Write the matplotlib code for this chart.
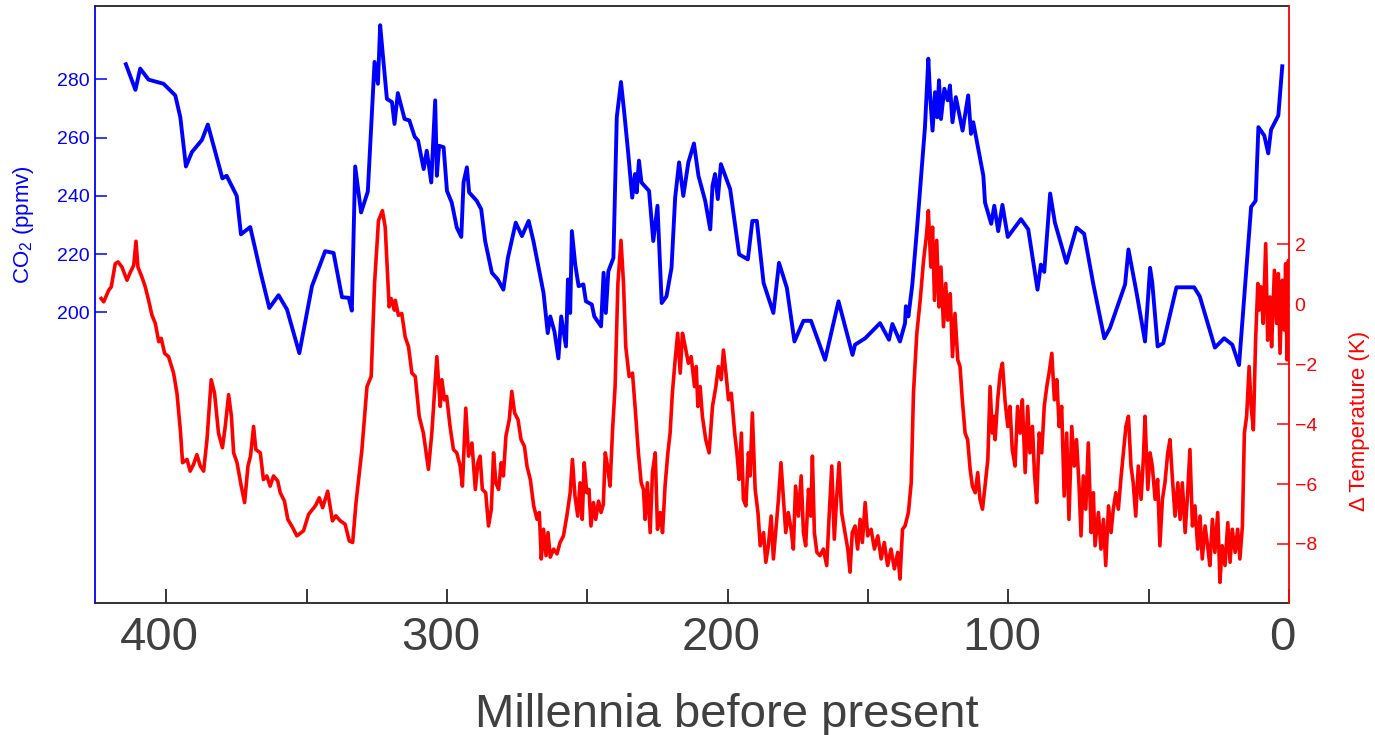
import matplotlib
matplotlib.use('Agg')
import matplotlib.pyplot as plt
from matplotlib.ticker import FixedLocator, FuncFormatter
from matplotlib.transforms import ScaledTranslation

# ---------------- data ----------------
co2_age = [414.4, 411.0, 409.3, 406.3, 401.0, 396.8, 395.0, 393.0, 390.9, 387.3, 385.2, 380.0, 378.5,
           374.9, 373.4, 370.1, 366.5, 363.3, 360.0, 357.0, 352.6, 348.1, 343.4, 340.4, 337.4, 335.0,
           333.9, 332.7, 330.6, 328.2, 325.8, 324.6, 323.8, 323.0, 321.4, 319.6, 318.7, 317.5, 315.1,
           313.4, 311.5, 310.3, 308.3, 307.2, 305.6, 304.2, 303.6, 302.8, 301.2, 300.0, 298.3, 296.5,
           294.9, 294.1, 292.9, 292.1, 289.4, 287.8, 286.4, 284.0, 281.9, 279.9, 278.3, 275.5, 273.3,
           270.9, 269.2, 265.6, 264.1, 263.2, 261.7, 260.3, 259.3, 257.6, 256.9, 256.1, 255.5, 254.3,
           253.1, 251.4, 250.5, 248.4, 247.5, 245.1, 244.2, 243.4, 242.5, 240.7, 239.5, 238.0, 236.8,
           235.4, 234.0, 233.0, 232.4, 231.6, 230.7, 228.0, 226.5, 225.0, 223.5, 221.8, 220.0, 218.7,
           217.3, 215.8, 214.0, 212.0, 210.4, 208.0, 206.2, 205.4, 204.5, 203.5, 202.4, 199.1, 195.9,
           192.8, 191.2, 189.6, 187.2, 183.7, 181.7, 178.9, 176.2, 173.0, 170.3, 165.3, 160.5, 155.5,
           154.6, 151.0, 145.7, 142.5, 141.3, 138.6, 136.8, 136.5, 135.6, 134.2, 132.6, 130.8, 129.7,
           128.5, 127.9, 127.0, 126.1, 125.3, 124.7, 124.0, 122.8, 121.6, 120.8, 119.9, 118.7, 116.3,
           114.3, 113.3, 112.5, 108.9, 108.3, 106.1, 105.0, 103.6, 102.1, 100.2, 95.5, 92.9, 89.6,
           88.4, 87.2, 85.1, 83.4, 79.3, 75.7, 73.0, 69.7, 65.8, 63.8, 58.4, 57.2, 54.3, 51.3, 49.5,
           48.7, 46.8, 44.8, 40.1, 33.8, 31.8, 26.4, 23.1, 20.2, 17.8, 13.5, 11.9, 10.9, 8.8, 7.4,
           6.4, 3.8, 2.4]
co2_ppmv = [285.2, 276.4, 283.7, 279.9, 278.5, 274.5, 267.0, 250.1, 255.0, 259.2, 264.5, 246.0, 246.9,
            240.0, 226.8, 229.3, 214.1, 201.5, 205.9, 201.0, 186.0, 209.0, 221.0, 220.4, 205.2, 205.0,
            200.6, 250.1, 234.3, 241.5, 286.0, 278.5, 298.6, 290.0, 273.3, 272.2, 264.7, 275.3, 266.4,
            265.9, 260.3, 259.0, 249.2, 255.5, 244.6, 272.8, 246.9, 257.2, 256.7, 241.7, 237.7, 229.1,
            225.9, 244.6, 249.8, 241.2, 238.3, 235.4, 224.5, 213.6, 211.3, 207.8, 218.7, 230.8, 226.2,
            231.4, 224.5, 206.7, 192.9, 198.6, 193.4, 184.2, 198.6, 188.3, 211.3, 199.8, 227.9, 216.4,
            209.0, 209.6, 203.8, 202.7, 198.6, 195.2, 213.6, 199.8, 214.1, 218.7, 267.0, 279.1, 268.2,
            254.4, 239.4, 247.5, 241.2, 252.1, 244.6, 241.7, 224.5, 236.6, 203.2, 205.5, 215.3, 239.4,
            251.5, 240.0, 251.5, 258.0, 246.9, 238.3, 228.5, 243.4, 247.5, 238.9, 250.9, 242.3, 219.9,
            218.2, 231.4, 231.4, 210.1, 199.8, 217.0, 208.4, 190.0, 197.1, 197.1, 183.7, 203.8, 185.4,
            188.9, 191.1, 196.3, 190.6, 196.0, 190.0, 196.3, 202.1, 198.6, 209.6, 227.9, 249.8, 263.6,
            287.1, 275.1, 262.4, 275.6, 267.0, 279.7, 266.4, 276.8, 272.8, 277.9, 265.3, 273.9, 262.4,
            274.5, 261.3, 265.3, 246.9, 237.7, 230.4, 236.6, 227.9, 236.9, 225.9, 232.0, 228.5, 207.8,
            216.4, 213.9, 240.8, 230.8, 217.0, 229.1, 227.0, 209.6, 191.1, 194.6, 209.6, 221.6, 206.7,
            190.0, 215.3, 210.1, 188.3, 189.4, 208.6, 208.6, 205.5, 187.9, 191.1, 188.9, 181.9, 236.2,
            238.3, 263.6, 260.7, 254.6, 262.7, 267.6, 284.5]

temp_age = [423.2, 422.3, 420.5, 419.6, 418.2, 417.2, 415.8, 414.0, 412.8, 411.6, 410.8, 410.1, 408.7,
            407.5, 406.3, 405.1, 403.9, 402.7, 401.8, 400.6, 399.2, 397.4, 396.2, 395.0, 394.2, 392.6,
            391.5, 390.3, 389.1, 387.9, 386.7, 385.5, 384.0, 382.8, 381.4, 380.0, 379.0, 377.8, 376.8,
            376.0, 374.8, 373.3, 372.1, 370.9, 370.0, 368.9, 368.1, 366.5, 365.4, 364.2, 363.0, 361.8,
            360.3, 359.4, 357.9, 356.7, 355.0, 353.5, 351.1, 349.3, 346.9, 345.5, 344.3, 342.5, 340.8,
            339.6, 338.0, 336.3, 334.8, 333.6, 332.4, 330.3, 328.5, 327.0, 325.8, 324.4, 323.0, 322.0,
            320.6, 319.9, 318.7, 318.4, 317.3, 316.1, 314.9, 313.7, 312.5, 311.3, 309.9, 308.4, 306.6,
            305.4, 303.6, 302.4, 301.8, 300.9, 300.1, 298.9, 297.7, 296.5, 295.3, 294.5, 293.3, 292.3,
            291.1, 289.9, 289.0, 288.2, 287.4, 286.2, 285.2, 284.2, 283.4, 282.6, 281.6, 280.7, 279.9,
            279.0, 277.8, 276.9, 275.9, 274.7, 273.6, 272.4, 271.5, 270.3, 269.1, 267.9, 267.1, 266.4,
            265.6, 264.7, 264.0, 263.2, 262.0, 260.8, 259.7, 258.5, 257.3, 256.1, 255.3, 254.4, 253.4,
            252.6, 251.8, 251.1, 250.2, 249.4, 248.7, 247.8, 247.0, 246.0, 245.1, 244.3, 243.6, 242.8,
            241.9, 241.0, 240.1, 239.1, 238.0, 237.1, 236.3, 235.1, 233.9, 232.9, 231.8, 230.8, 230.0,
            229.4, 228.6, 227.6, 226.8, 225.8, 225.0, 224.0, 223.2, 222.3, 221.3, 220.5, 219.7, 218.7,
            217.8, 216.9, 216.1, 215.1, 214.0, 213.0, 211.8, 211.2, 210.6, 209.8, 209.0, 207.8, 206.6,
            205.4, 204.2, 203.3, 202.3, 201.5, 200.6, 199.7, 198.7, 197.5, 196.7, 195.9, 195.1, 194.4,
            193.5, 192.6, 192.0, 191.2, 190.2, 189.2, 188.4, 187.2, 186.4, 185.5, 184.5, 183.7, 182.9,
            181.9, 181.0, 180.1, 179.3, 178.4, 177.4, 176.6, 175.8, 174.8, 173.8, 173.0, 172.2, 171.2,
            170.4, 169.8, 169.1, 168.2, 167.1, 165.9, 164.7, 163.9, 162.9, 162.0, 161.2, 160.3, 159.4,
            158.2, 157.2, 156.4, 155.6, 154.6, 153.7, 152.8, 152.0, 151.0, 150.1, 148.9, 147.7, 146.5,
            145.3, 144.2, 143.0, 141.8, 140.6, 139.4, 138.6, 137.7, 136.8, 135.6, 134.6, 133.8, 132.6,
            131.4, 130.2, 129.1, 128.5, 127.6, 127.0, 126.3, 125.5, 124.7, 124.0, 123.1, 122.3, 121.6,
            120.7, 119.9, 119.0, 118.0, 117.2, 116.4, 115.4, 114.5, 113.6, 112.8, 111.8, 110.9, 110.1,
            109.2, 108.3, 107.3, 106.5, 105.7, 105.0, 104.7, 103.8, 102.9, 102.1, 101.2, 100.2, 99.4,
            98.6, 97.6, 96.7, 95.8, 95.0, 94.0, 93.1, 92.3, 91.4, 90.7, 89.9, 89.0, 88.1, 87.2, 86.3,
            85.5, 84.5, 83.6, 82.7, 81.9, 81.0, 80.1, 79.2, 78.4, 77.4, 76.5, 75.7, 74.8, 74.1, 73.3,
            72.4, 71.5, 70.5, 69.7, 69.1, 67.9, 67.0, 66.1, 65.3, 64.3, 63.4, 62.6, 61.7, 60.8, 59.8,
            59.0, 58.1, 57.2, 56.3, 55.5, 54.6, 53.7, 52.7, 51.9, 51.3, 50.3, 49.5, 48.7, 47.7, 46.8,
            46.0, 45.1, 44.2, 43.2, 42.4, 41.6, 40.6, 39.6, 38.8, 38.0, 37.0, 36.1, 35.3, 34.4, 33.5,
            32.5, 31.7, 30.9, 29.9, 29.0, 28.2, 27.3, 26.4, 25.4, 24.6, 23.8, 22.8, 21.8, 21.0, 20.2,
            19.2, 18.3, 17.5, 16.6, 15.9, 15.1, 14.2, 13.5, 12.7, 11.9, 11.1, 10.7, 10.0, 9.2, 8.3,
            7.6, 6.8, 6.2, 5.2, 4.4, 3.8, 3.2, 2.4, 1.7, 1.2, 0.7, 0.2, 0.1]
temp_dT = [0.19, 0.08, 0.47, 0.58, 1.35, 1.41, 1.24, 0.80, 1.07, 1.30, 2.10, 1.24, 0.91,
           0.58, 0.13, -0.37, -0.64, -1.25, -1.14, -1.64, -1.75, -2.30, -2.97, -4.19, -5.29, -5.18,
           -5.57, -5.35, -5.02, -5.40, -5.57, -4.52, -2.52, -2.97, -4.30, -4.79, -4.08, -3.02, -3.74,
           -4.96, -5.29, -6.07, -6.62, -5.40, -5.07, -4.08, -4.85, -4.96, -5.85, -5.73, -6.07, -5.73,
           -5.90, -6.29, -6.57, -7.18, -7.45, -7.73, -7.56, -7.01, -6.73, -6.46, -6.79, -6.24, -7.23,
           -7.06, -7.23, -7.34, -7.90, -7.95, -6.62, -4.85, -2.75, -2.41, 0.69, 2.79, 3.12, 2.57,
           -0.09, 0.19, -0.20, 0.13, -0.37, -0.31, -1.09, -1.42, -2.30, -2.41, -3.74, -4.30, -5.51,
           -4.30, -1.75, -3.41, -2.52, -3.19, -3.08, -4.08, -4.85, -4.96, -5.40, -6.07, -3.47, -5.07,
           -4.63, -6.18, -5.29, -5.07, -6.18, -6.29, -7.40, -6.84, -4.96, -5.96, -6.18, -5.29, -5.73,
           -4.41, -3.85, -2.91, -3.63, -3.85, -4.52, -4.74, -5.40, -5.85, -6.73, -7.18, -6.95, -8.50,
           -7.51, -8.39, -7.62, -8.44, -8.17, -8.33, -7.95, -7.73, -7.07, -6.29, -5.18, -6.40, -7.07,
           -5.96, -7.18, -5.29, -6.29, -6.18, -7.40, -6.62, -7.18, -6.57, -6.95, -6.68, -4.96, -5.40,
           -6.07, -4.19, -2.75, 0.69, 2.13, 0.69, -1.42, -2.41, -2.30, -3.52, -4.96, -5.96, -6.18,
           -7.18, -5.96, -7.62, -5.62, -4.96, -7.51, -6.95, -7.62, -6.07, -4.96, -4.30, -2.97, -1.86,
           -0.97, -2.30, -0.97, -1.42, -1.97, -1.75, -2.75, -2.08, -3.41, -2.75, -3.74, -4.52, -4.96,
           -3.41, -2.75, -2.08, -2.52, -1.53, -2.30, -3.19, -2.97, -4.30, -4.96, -5.85, -4.30, -6.51,
           -6.73, -4.96, -5.73, -3.63, -6.18, -6.95, -8.06, -7.62, -8.61, -8.06, -7.07, -8.50, -7.62,
           -6.51, -5.29, -6.51, -7.62, -6.95, -7.51, -8.17, -6.07, -7.07, -5.73, -7.62, -8.06, -6.18,
           -7.07, -5.07, -7.62, -8.28, -8.39, -8.17, -8.72, -7.18, -5.40, -7.84, -6.51, -5.29, -6.95,
           -7.62, -8.17, -8.94, -7.62, -7.40, -8.17, -7.18, -7.95, -6.62, -7.73, -7.51, -8.17, -7.73,
           -8.50, -7.95, -8.72, -8.17, -8.83, -8.28, -9.17, -7.51, -7.40, -6.95, -5.96, -2.97, -0.97,
           0.13, 1.46, 2.35, 3.12, 1.24, 2.57, 0.13, 2.13, -0.09, 1.24, -0.75, 0.69, -0.53,
           0.35, -1.75, -0.31, -1.86, -2.08, -3.19, -4.30, -4.52, -5.51, -6.07, -6.29, -5.62, -6.51,
           -6.84, -6.07, -5.18, -2.75, -4.30, -3.74, -4.52, -3.19, -2.30, -1.97, -3.19, -4.08, -3.41,
           -4.85, -5.40, -3.41, -4.30, -3.19, -5.62, -3.41, -4.96, -4.08, -5.62, -6.62, -4.30, -4.96, -3.41, -2.75,
           -2.30, -1.64, -3.19, -2.52, -4.08, -3.41, -6.40, -4.30, -7.18, -4.08, -5.40, -4.52, -6.07, -7.73, -5.73,
           -6.84, -4.63, -7.62, -6.29, -8.06, -6.95, -8.17, -7.18, -8.72, -6.73, -7.62, -6.84, -6.29, -6.84, -5.73,
           -4.96, -4.08, -3.74, -5.40, -5.96, -7.07, -5.40, -6.51, -5.18, -3.74, -6.18, -4.96, -5.40, -6.51, -5.85,
           -8.06, -6.51, -5.96, -4.96, -4.52, -5.73, -7.07, -5.96, -7.18, -5.96, -7.62, -6.29, -4.85, -7.40, -6.73,
           -8.17, -7.07, -8.50, -7.40, -8.06, -8.72, -7.18, -8.28, -6.95, -9.28, -8.06, -8.72, -7.29, -8.61, -7.51,
           -8.28, -7.51, -8.50, -7.40, -4.30, -3.74, -2.08, -3.41, -4.19, -1.20, 0.69, -0.20, 0.58, -0.64, 2.02,
           -1.20, 0.24, -1.42, 1.13, -0.64, 1.02, -1.64, 0.80, -0.86, 1.35, -1.86, 1.46, -0.09]

x_major = [400, 300, 200, 100, 0]
x_minor = [350, 250, 150, 50]
co2_ticks = [200, 220, 240, 260, 280]
temp_ticks = [-8, -6, -4, -2, 0, 2]

# ---------------- figure ----------------
plt.rcParams['font.family'] = ['Liberation Sans', 'DejaVu Sans']
plt.rcParams['mathtext.default'] = 'regular'

W, H = 1375, 735
fig = plt.figure(figsize=(W / 100, H / 100), dpi=100)
L, R, T, B = 95, 1289, 6, 603
ax = fig.add_axes([L / W, 1 - B / H, (R - L) / W, (B - T) / H])
ax2 = ax.twinx()

BLUE = '#0000FF'
RED = '#FF0000'
GREY = '#404040'

ax.plot(co2_age, co2_ppmv, color=BLUE, lw=2.8)
ax2.plot(temp_age, temp_dT, color=RED, lw=2.6)

ax.set_xlim(425.4, 0)
ax.set_ylim(100.2, 305.2)
ax2.set_ylim(-9.97, 9.95)

# x axis
ax.xaxis.set_major_locator(FixedLocator(x_major))
ax.xaxis.set_minor_locator(FixedLocator(x_minor))
ax.xaxis.set_major_formatter(FuncFormatter(lambda v, p: f'{int(round(v))}'))
ax.tick_params(axis='x', which='both', direction='in', length=10, width=1.1,
               color='black', labelsize=34, labelcolor=GREY, pad=9, top=False)

# left axis
ax.set_yticks(co2_ticks)
ax.tick_params(axis='y', direction='in', length=8.5, width=1.1, colors=BLUE,
               labelsize=14, pad=4)
# right axis
ax2.set_yticks(temp_ticks)
ax2.tick_params(axis='y', direction='in', length=8.5, width=1.1, colors=RED,
                labelsize=14, pad=4)

for s in ['top', 'bottom']:
    ax.spines[s].set_color('#222222')
    ax.spines[s].set_linewidth(1.3)
    ax2.spines[s].set_visible(False)
ax.spines['left'].set_color(BLUE)
ax.spines['left'].set_linewidth(1.3)
ax.spines['right'].set_visible(False)
ax2.spines['left'].set_visible(False)
ax2.spines['right'].set_color(RED)
ax2.spines['right'].set_linewidth(1.3)

# shift x tick labels slightly left, as in the reference
off = ScaledTranslation(-6.5 / 100, 0, fig.dpi_scale_trans)
for lab in ax.get_xticklabels():
    lab.set_transform(lab.get_transform() + off)

fig.text(23 / W, 1 - 225 / H, 'CO$_2$ (ppmv)', rotation=90, ha='center', va='center',
         color=BLUE, fontsize=16)
fig.text(1360 / W, 1 - 421 / H, '\u0394 Temperature (K)', rotation=90, ha='center',
         va='center', color=RED, fontsize=16)
fig.text(727 / W, 8 / H, 'Millennia before present', ha='center', va='baseline',
         color=GREY, fontsize=34)

fig.savefig('out.png', dpi=100)
